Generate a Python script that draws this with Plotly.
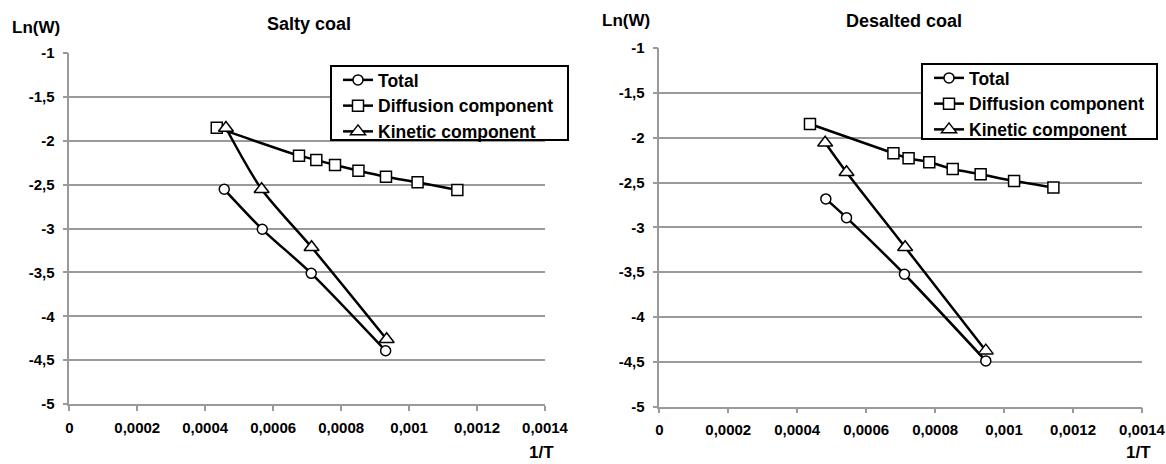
import plotly.graph_objects as go

# ---- data: Arrhenius-type plot, ln(W) vs 1/T ----
salty_total_x = [0.000456, 0.000568, 0.000712, 0.000931]
salty_total_y = [-2.553, -3.009, -3.511, -4.393]
salty_diff_x = [0.000434, 0.000676, 0.000727, 0.000782, 0.000851, 0.000932, 0.001025, 0.001142]
salty_diff_y = [-1.851, -2.170, -2.219, -2.276, -2.341, -2.410, -2.474, -2.561]
salty_kin_x = [0.000461, 0.000566, 0.000713, 0.000934]
salty_kin_y = [-1.855, -2.553, -3.214, -4.263]

desalted_total_x = [0.000483, 0.000543, 0.000711, 0.000947]
desalted_total_y = [-2.683, -2.892, -3.523, -4.489]
desalted_diff_x = [0.000437, 0.000679, 0.000723, 0.000783, 0.000851, 0.000932, 0.001029, 0.001143]
desalted_diff_y = [-1.847, -2.174, -2.230, -2.274, -2.349, -2.408, -2.483, -2.557]
desalted_kin_x = [0.000481, 0.000543, 0.000713, 0.000947]
desalted_kin_y = [-2.056, -2.385, -3.222, -4.375]

series_names = ["Total", "Diffusion component", "Kinetic component"]
titles = ["Salty coal", "Desalted coal"]

x_tick_vals = [0, 0.0002, 0.0004, 0.0006, 0.0008, 0.001, 0.0012, 0.0014]
x_tick_text = ["0", "0,0002", "0,0004", "0,0006", "0,0008", "0,001", "0,0012", "0,0014"]
y_tick_vals = [-5, -4.5, -4, -3.5, -3, -2.5, -2, -1.5, -1]
y_tick_text = ["-5", "-4,5", "-4", "-3,5", "-3", "-2,5", "-2", "-1,5", "-1"]

# ---- page geometry (pixels) ----
W, H = 1166, 464
FONT = "Liberation Sans, Arial, sans-serif"
GRID = "#9a9a9a"


def px_x(p):
    return p / W


def px_y(p):
    return 1 - p / H


panels = [
    # plot box: left, right, top, bottom ; legend frame: left, right, top, bottom
    dict(box=(69.3, 545, 53, 404), title_xy=(309, 24), ylab_xy=(36, 27), xlab_xy=(541, 452),
         frame=(331, 568, 66, 140),
         data=[(salty_total_x, salty_total_y), (salty_diff_x, salty_diff_y), (salty_kin_x, salty_kin_y)]),
    dict(box=(659.3, 1142, 48, 406.7), title_xy=(904, 21), ylab_xy=(626, 21), xlab_xy=(1138, 452),
         frame=(922, 1157, 64, 139),
         data=[(desalted_total_x, desalted_total_y), (desalted_diff_x, desalted_diff_y),
               (desalted_kin_x, desalted_kin_y)]),
]

symbols = [("circle", 10), ("square", 11), ("triangle-up", 13)]

fig = go.Figure()
annotations = []
shapes = []

for i, pnl in enumerate(panels):
    sfx = "" if i == 0 else str(i + 1)
    leg = "legend" if i == 0 else "legend2"
    for (xs, ys), name, (sym, size) in zip(pnl["data"], series_names, symbols):
        fig.add_trace(go.Scatter(
            x=xs, y=ys, name=name, mode="lines+markers",
            xaxis="x" + sfx, yaxis="y" + sfx, legend=leg,
            line=dict(color="black", width=2.5, shape="spline", smoothing=0.8),
            marker=dict(symbol=sym, size=size, color="white",
                        line=dict(color="black", width=1.5)),
        ))

    l, r, t, b = pnl["box"]
    fig.layout["xaxis" + sfx] = dict(
        domain=[px_x(l), px_x(r)], range=[0, 0.0014], anchor="y" + sfx,
        tickvals=x_tick_vals, ticktext=x_tick_text, automargin=False,
        showgrid=False, zeroline=False, showline=True, linecolor=GRID, linewidth=1.5,
        ticks="outside", ticklen=5, tickcolor=GRID, tickwidth=1.5, ticklabelstandoff=4,
        tickfont=dict(family=FONT, size=15, color="black", weight="bold"),
    )
    fig.layout["yaxis" + sfx] = dict(
        domain=[px_y(b), px_y(t)], range=[-5, -1], anchor="x" + sfx,
        tickvals=y_tick_vals, ticktext=y_tick_text, automargin=False,
        showgrid=True, gridcolor=GRID, gridwidth=1.5,
        zeroline=False, showline=True, linecolor=GRID, linewidth=1.5,
        ticks="outside", ticklen=5, tickcolor=GRID, tickwidth=1.5, ticklabelstandoff=5,
        tickfont=dict(family=FONT, size=15, color="black", weight="bold"),
    )

    # legend frame drawn as a white box; the legend items sit inside it
    fl, fr, ft, fb = pnl["frame"]
    shapes.append(dict(type="rect", xref="paper", yref="paper",
                       x0=px_x(fl), x1=px_x(fr), y0=px_y(fb), y1=px_y(ft),
                       line=dict(color="black", width=2), fillcolor="white", layer="above"))
    fig.layout[leg] = dict(
        x=px_x(fl + 7), y=px_y(ft - 4), xanchor="left", yanchor="top",
        bgcolor="rgba(0,0,0,0)", borderwidth=0,
        font=dict(family=FONT, size=17.5, color="black", weight="bold"),
        tracegroupgap=0, itemsizing="trace",
    )

    tx, ty = pnl["title_xy"]
    annotations.append(dict(x=px_x(tx), y=px_y(ty), xref="paper", yref="paper",
                            text=titles[i], showarrow=False, xanchor="center", yanchor="middle",
                            font=dict(family=FONT, size=18, color="black", weight="bold")))
    yx, yy = pnl["ylab_xy"]
    annotations.append(dict(x=px_x(yx), y=px_y(yy), xref="paper", yref="paper",
                            text="Ln(W)", showarrow=False, xanchor="center", yanchor="middle",
                            font=dict(family=FONT, size=17, color="black", weight="bold")))
    xx, xy = pnl["xlab_xy"]
    annotations.append(dict(x=px_x(xx), y=px_y(xy), xref="paper", yref="paper",
                            text="1/T", showarrow=False, xanchor="center", yanchor="middle",
                            font=dict(family=FONT, size=17, color="black", weight="bold")))

fig.update_layout(
    width=W, height=H, autosize=False,
    margin=dict(l=0, r=0, t=0, b=0, autoexpand=False),
    paper_bgcolor="white", plot_bgcolor="white",
    annotations=annotations, shapes=shapes, showlegend=True,
)

fig.write_html("out.html")
